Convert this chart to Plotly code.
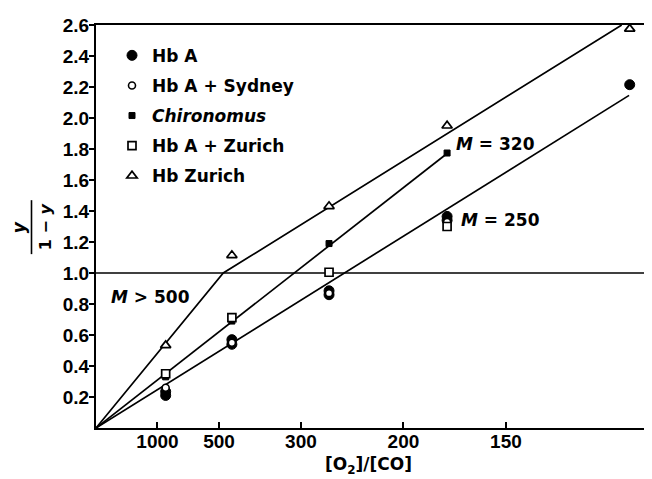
import plotly.graph_objects as go

# x positions: 10^3 * [CO]/[O2] (axis is linear in the reciprocal ratio)
x_groups = [1.133, 2.21, 3.79, 5.71, 8.68]

# series values (y/(1-y))
hba_x = [1.133, 1.133, 2.21, 2.21, 3.79, 3.79, 5.71, 5.71, 8.68]
hba_y = [0.235, 0.21, 0.57, 0.54, 0.885, 0.86, 1.365, 1.34, 2.215]
syd_x = [1.133, 2.21, 3.79, 5.71]
syd_y = [0.26, 0.55, 0.87, 1.33]
chiro_x = [1.133, 2.21, 3.79, 5.71]
chiro_y = [0.33, 0.69, 1.19, 1.774]
hbaz_x = [1.133, 2.21, 3.79, 5.71]
hbaz_y = [0.35, 0.712, 1.005, 1.30]
zur_x = [1.133, 2.21, 3.79, 5.71, 8.68]
zur_y = [0.533, 1.114, 1.43, 1.95, 2.575]

# fitted lines
zur_line_x = [0, 2.07, 8.55]
zur_line_y = [0, 1.0, 2.6]
chiro_line_x = [0, 5.72]
chiro_line_y = [0, 1.774]
hba_line_x = [0, 8.67]
hba_line_y = [0, 2.146]
ref_level = 1.0

# tick labels
x_tick_ratios = [1000, 500, 300, 200, 150]
x_tick_vals = [1000.0 / r for r in x_tick_ratios]
y_tick_vals = [0.2, 0.4, 0.6, 0.8, 1.0, 1.2, 1.4, 1.6, 1.8, 2.0, 2.2, 2.4, 2.6]

XMAX = 9.01
TICKFONT = "Liberation Sans"
TXTFONT = "DejaVu Sans"

fig = go.Figure()

for lx, ly in [(zur_line_x, zur_line_y), (chiro_line_x, chiro_line_y), (hba_line_x, hba_line_y), ([0, XMAX], [ref_level, ref_level])]:
    fig.add_trace(go.Scatter(x=lx, y=ly, mode="lines", line=dict(color="black", width=1.7),
                             showlegend=False, hoverinfo="skip", cliponaxis=False))

fig.add_trace(go.Scatter(x=hba_x, y=hba_y, mode="markers", name="Hb A", legendgroup="a",
                         marker=dict(symbol="circle", size=10, color="black", line=dict(color="black", width=1))))
fig.add_trace(go.Scatter(x=syd_x, y=syd_y, mode="markers", name="Hb A + Sydney", legendgroup="b",
                         marker=dict(symbol="circle", size=7, color="white", line=dict(color="black", width=1.6))))
fig.add_trace(go.Scatter(x=chiro_x, y=chiro_y, mode="markers", name="<i>Chironomus</i>", legendgroup="c",
                         marker=dict(symbol="square", size=6, color="black", line=dict(color="black", width=1))))
fig.add_trace(go.Scatter(x=hbaz_x, y=hbaz_y, mode="markers", name="Hb A + Zurich", legendgroup="d",
                         marker=dict(symbol="square", size=8, color="white", line=dict(color="black", width=1.7))))
fig.add_trace(go.Scatter(x=zur_x, y=zur_y, mode="markers", name="Hb Zurich", legendgroup="e",
                         marker=dict(symbol="triangle-up", size=9, color="white", line=dict(color="black", width=1.7)),
                         cliponaxis=False))

# The page places the figure 8 px from the top-left corner; compensate.
OFF = 8
PL, PR, PT, PB = 96, 650, 24.7, 428   # plot area in screen pixels
W, H = 652 - OFF, 479 - OFF
ML = PL - OFF
MT = PT - OFF
MR = W - (PR - OFF)
MB = H - (PB - OFF)

def sx(p):
    return (p - PL) / (PR - PL)

def sy(p):
    return (PB - p) / (PB - PT)

tf = dict(family=TXTFONT, size=17, color="black", weight="bold")

annots = [
    dict(text="<i>M</i> > 500", x=sx(109), xref="paper", y=0.845, yref="y", xanchor="left", yanchor="middle",
         showarrow=False, font=tf),
    dict(text="<i>M</i> = 320", x=5.82, y=1.835, xanchor="left", yanchor="middle",
         showarrow=False, font=tf),
    dict(text="<i>M</i> = 250", x=5.9, y=1.34, xanchor="left", yanchor="middle",
         showarrow=False, font=tf),
    dict(text="[O<sub>2</sub>]/[CO]", x=sx(368), xref="paper", y=sy(466), yref="paper",
         xanchor="center", yanchor="middle", showarrow=False,
         font=dict(family=TXTFONT, size=17, color="black", weight="bold")),
    dict(text="<i>y</i>", x=sx(19), xref="paper", y=sy(227), yref="paper", textangle=-90,
         xanchor="center", yanchor="middle", showarrow=False, font=tf),
    dict(text="1 − <i>y</i>", x=sx(45), xref="paper", y=sy(227), yref="paper", textangle=-90,
         xanchor="center", yanchor="middle", showarrow=False, font=dict(family=TXTFONT, size=16, color="black", weight="bold")),
]

shapes = [
    dict(type="line", xref="paper", yref="paper", x0=sx(31.5), x1=sx(31.5), y0=sy(200), y1=sy(254),
         line=dict(color="black", width=1.6)),
    dict(type="line", xref="x", yref="y", x0=XMAX, x1=XMAX, y0=0, y1=ref_level,
         line=dict(color="black", width=2)),
]

fig.update_layout(
    width=W, height=H,
    margin=dict(l=ML, r=MR, t=MT, b=MB, pad=0, autoexpand=False),
    paper_bgcolor="white", plot_bgcolor="white",
    font=dict(family=TXTFONT, color="black"),
    annotations=annots, shapes=shapes,
    legend=dict(x=sx(112), y=sy(37.5), xanchor="left", yanchor="top", bgcolor="rgba(0,0,0,0)",
                font=dict(family=TXTFONT, size=17, color="black", weight="bold"), tracegroupgap=5, itemwidth=30),
    xaxis=dict(range=[0, XMAX], showgrid=False, zeroline=False, showline=True, linecolor="black", linewidth=2,
               mirror=True, ticks="inside", ticklen=6, tickwidth=1.5, tickcolor="black",
               tickvals=x_tick_vals, ticktext=[str(r) for r in x_tick_ratios], ticklabelstandoff=-5,
               tickfont=dict(family=TICKFONT, size=19, color="black", weight="bold")),
    yaxis=dict(range=[0, 2.6], showgrid=False, zeroline=False, showline=True, linecolor="black", linewidth=2,
               ticks="outside", ticklen=5, tickwidth=1.5, tickcolor="black", ticklabelstandoff=-4,
               tickvals=y_tick_vals, ticktext=[f"{v:.1f}" for v in y_tick_vals],
               tickfont=dict(family=TICKFONT, size=19, color="black", weight="bold")),
)

fig.write_html("out.html")
